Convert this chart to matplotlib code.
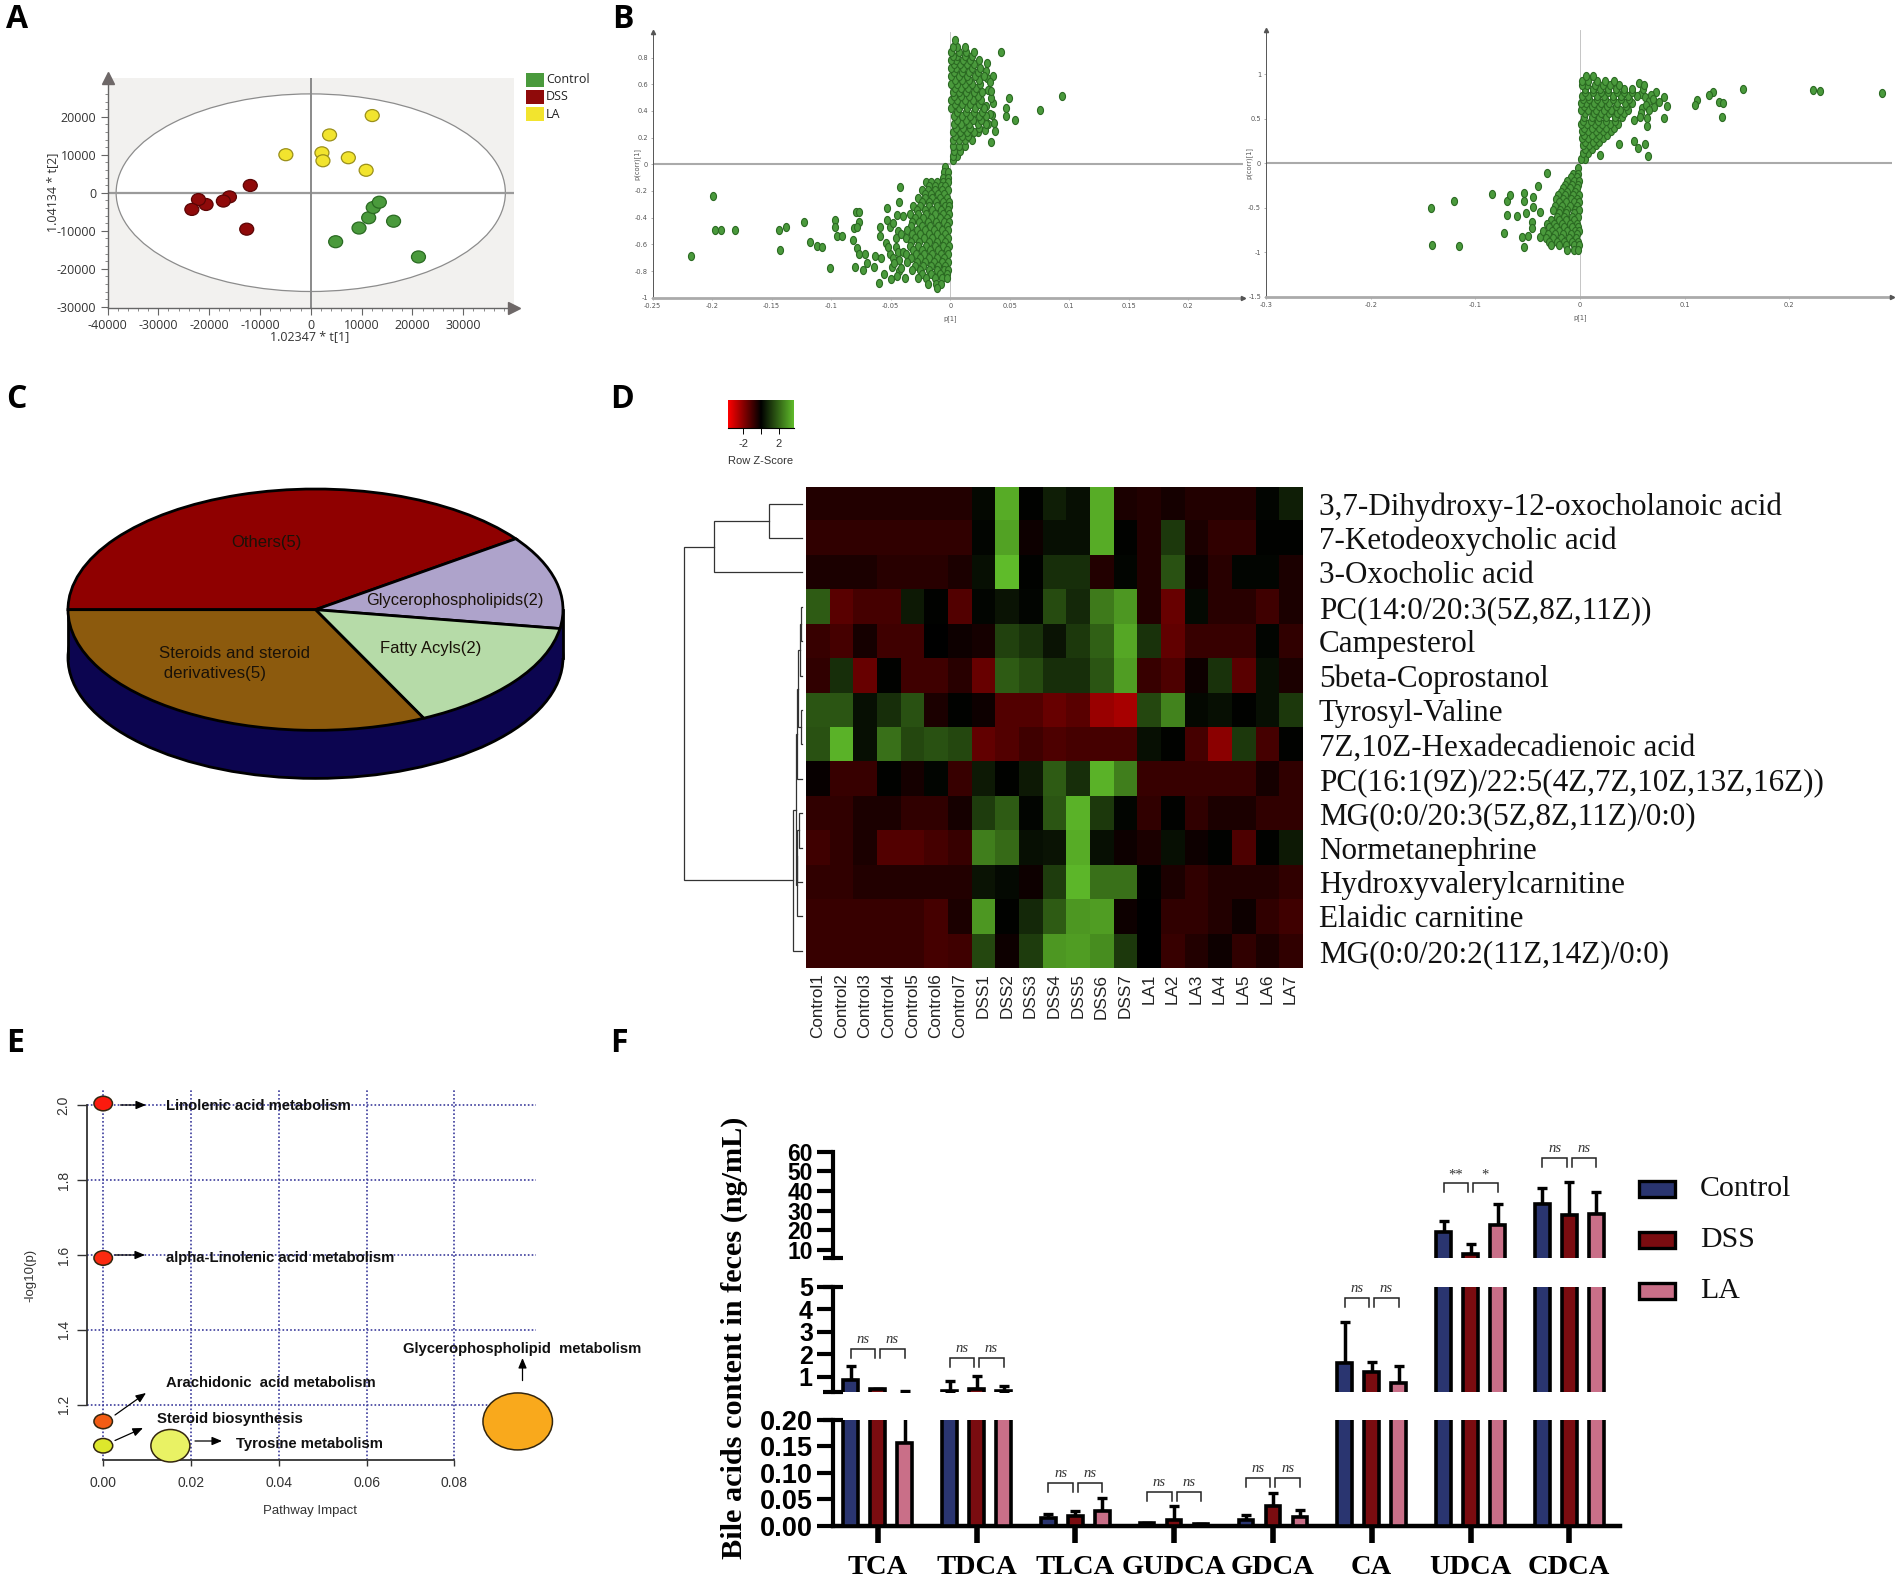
import numpy as np
import matplotlib
matplotlib.use("Agg")
import matplotlib.pyplot as plt
from matplotlib.patches import Ellipse, Rectangle
from matplotlib.colors import LinearSegmentedColormap
from matplotlib.path import Path
from matplotlib.transforms import Affine2D

plt.rcParams["axes.unicode_minus"] = False

W, H = 1902, 1580
SANS, SERIF, OPEN = "Liberation Sans", "Liberation Serif", "Open Sans"

# ---------- Panel A ----------
A_groups = ["Control", "DSS", "LA"]
A_control_x = [4900, 9500, 11400, 12300, 13500, 16300, 21200]
A_control_y = [-12900, -9300, -6600, -3900, -2500, -7500, -16900]
A_dss_x = [-11900, -12600, -16000, -17200, -20600, -22100, -23400]
A_dss_y = [1900, -9600, -1100, -2200, -3100, -1800, -4400]
A_la_x = [-4900, 2200, 2400, 3700, 7400, 10900, 12100]
A_la_y = [10000, 10500, 8400, 15200, 9200, 5900, 20300]

# ---------- Panel B ----------
B1_out_x = [-.199, -.198, -.193, -.181, -.218, -.144, -.138, -.123, -.143, -.118, -.112, -.108, -.097, -.097,
            -.095, -.091, -.101, -.079, -.077, -.077, -.081, -.078, -.082, -.078, -.077, -.072, -.08, -.073,
            -.07, -.06, -.064, -.063, -.058, -.056, -.059, -.059, -.053, -.053, -.051, -.054, -.051, -.049,
            -.042, -.045, -.04, -.044, -.046, -.043,
            -.048, -.046, -.044, -.048, -.043, -.041, -.052, -.047, -.041, -.045, -.04, -.043, -.05,
            .043, .094, .075, .049, .047, .047, .054, .036, .036, .038, .034, .035, .037, .023, .031,
            .033, .032, .034, .03, .031, .033, .03, .032, .034, .029]
B1_out_y = [-.24, -.49, -.49, -.49, -.69, -.495, -.47, -.435, -.64, -.58, -.61, -.62, -.42, -.47,
            -.535, -.54, -.78, -.36, -.36, -.43, -.475, -.47, -.57, -.63, -.67, -.67, -.77, -.79,
            -.74, -.89, -.77, -.69, -.705, -.82, -.47, -.54, -.33, -.42, -.47, -.59, -.67, -.77,
            -.17, -.38, -.39, -.5, -.62, -.72,
            -.44, -.55, -.66, -.7, -.8, -.52, -.62, -.74, -.78, -.84, -.66, -.28, -.86,
            .845, .51, .41, .495, .42, .36, .33, .66, .46, .25, .17, .37, .31, .24, .65,
            .62, .56, .5, .7, .76, .38, .44, .3, .55, .26]
B1_rows = [(-.02, [-.004]), (-.06, [-.005, -.002]), (-.1, [-.006, -.002]),
           (-.13, [-.02, -.016, -.011, -.006, -.002]), (-.16, [-.018, -.013, -.008, -.004]),
           (-.19, [-.024, -.019, -.013, -.007, -.002]), (-.22, [-.021, -.016, -.01, -.005]),
           (-.25, [-.027, -.021, -.015, -.009, -.003]), (-.28, [-.024, -.018, -.012, -.006, -.001]),
           (-.31, [-.031, -.025, -.018, -.011, -.004, -.001]), (-.34, [-.028, -.021, -.015, -.008, -.002]),
           (-.37, [-.034, -.027, -.02, -.013, -.006, -.001]), (-.4, [-.03, -.023, -.016, -.009, -.003]),
           (-.43, [-.032, -.026, -.019, -.012, -.005, -.001]), (-.46, [-.033, -.024, -.017, -.01, -.003]),
           (-.49, [-.036, -.028, -.021, -.014, -.007, -.002]), (-.52, [-.032, -.025, -.018, -.011, -.004]),
           (-.55, [-.037, -.03, -.022, -.015, -.008, -.002]), (-.58, [-.033, -.026, -.018, -.011, -.004]),
           (-.61, [-.034, -.027, -.02, -.013, -.006, -.001]), (-.64, [-.031, -.024, -.017, -.01, -.003]),
           (-.67, [-.037, -.029, -.022, -.015, -.008, -.002]), (-.7, [-.033, -.025, -.018, -.011, -.005]),
           (-.73, [-.036, -.028, -.021, -.014, -.007, -.002]), (-.76, [-.03, -.023, -.016, -.01, -.004]),
           (-.79, [-.032, -.025, -.018, -.011, -.005, -.002]), (-.82, [-.024, -.016, -.009, -.003]),
           (-.85, [-.038, -.027, -.02, -.013, -.007, -.003]), (-.9, [-.019, -.012, -.008]), (-.93, [-.011]),
           (.03, [.002]), (.06, [.006, .002]), (.1, [.008, .003]), (.14, [.012, .007, .002]),
           (.18, [.018, .012, .007, .002]), (.21, [.015, .01, .004]), (.24, [.02, .014, .008, .002]),
           (.27, [.024, .017, .011, .005]), (.3, [.03, .023, .016, .009, .003]), (.33, [.026, .019, .013, .006]),
           (.36, [.03, .024, .017, .01, .003]), (.39, [.027, .02, .013, .006]),
           (.42, [.028, .021, .014, .007, .001]), (.45, [.024, .017, .01, .004]),
           (.48, [.026, .019, .012, .006, .001]), (.51, [.023, .016, .009, .003]),
           (.54, [.027, .02, .013, .007, .002]), (.57, [.022, .015, .009, .004]),
           (.6, [.025, .018, .012, .006, .001]), (.63, [.024, .016, .01, .004]),
           (.66, [.028, .021, .014, .007, .001]), (.69, [.023, .016, .01, .003]),
           (.72, [.025, .018, .011, .005, .001]), (.75, [.02, .014, .008, .003]),
           (.78, [.024, .017, .011, .005, .001]), (.81, [.018, .012, .006, .002]),
           (.84, [.02, .013, .007, .001]), (.88, [.012, .006, .002]), (.93, [.004])]
B2_out_x = [.288, .223, .229, .156, .127, .123, .112, .11, .133, .137, .136, .08, .08, .083, .073, .064, .064,
            .0625, .065, .052, .055, .0375, .019, .056, .071, .059, .052,
            .058, .062, .066, .06, .068, .063, .07, .058, .066, .061, .075, .057,
            -.142, -.12, -.141, -.116, -.084, -.07, -.067, -.07, -.06, -.073, -.054, -.054, -.0445, -.0445,
            -.052, -.054, -.055, -.05, -.046, -.046, -.038, -.032, -.04, -.038]
B2_out_y = [.786, .824, .816, .83, .805, .77, .71, .655, .685, .68, .524, .505, .75, .648, .805, .505, .42,
            .217, .086, .255, .17, .217, .094, .9, .637, .618, .487,
            .78, .74, .7, .84, .77, .66, .72, .56, .6, .88, .69, .52,
            -.498, -.427, -.918, -.925, -.345, -.423, -.356, -.58, -.59, -.787, -.33, -.427, -.375, -.487,
            -.56, -.936, -.824, -.816, -.655, -.73, -.83, -.112, -.255, -.543]
B2_rows = [(.05, [.005, .001]), (.12, [.008, .003]), (.16, [.011, .005]), (.2, [.015, .009, .003]),
           (.24, [.018, .012, .005]), (.28, [.022, .015, .008, .002]), (.32, [.026, .018, .011, .004]),
           (.36, [.03, .022, .015, .008, .002]), (.4, [.032, .025, .018, .011, .004]),
           (.44, [.036, .029, .021, .014, .007, .001]), (.48, [.033, .025, .017, .01, .003]),
           (.52, [.04, .033, .025, .018, .011, .004]), (.56, [.042, .035, .028, .02, .013, .005]),
           (.6, [.046, .038, .03, .023, .015, .008, .001]), (.64, [.044, .034, .026, .018, .011, .004]),
           (.68, [.05, .043, .035, .028, .02, .013, .006, .001]), (.72, [.047, .039, .031, .024, .016, .009, .003]),
           (.76, [.054, .046, .039, .031, .023, .016, .008, .002]), (.8, [.05, .042, .035, .027, .02, .012, .005]),
           (.84, [.05, .042, .034, .027, .019, .012, .005]), (.88, [.037, .029, .022, .014, .007, .002]),
           (.92, [.032, .024, .016, .008, .002]), (.98, [.012, .006]),
           (-.05, [-.002]), (-.12, [-.007, -.002]), (-.16, [-.009, -.003]), (-.2, [-.012, -.006, -.001]),
           (-.24, [-.014, -.008, -.002]), (-.28, [-.016, -.01, -.003]), (-.32, [-.018, -.012, -.005]),
           (-.36, [-.021, -.014, -.007, -.001]), (-.4, [-.023, -.016, -.009, -.003]),
           (-.44, [-.02, -.013, -.006, -.001]), (-.48, [-.024, -.017, -.01, -.003]),
           (-.52, [-.026, -.019, -.012, -.005, -.001]), (-.56, [-.02, -.013, -.006]),
           (-.6, [-.022, -.015, -.008, -.002]), (-.64, [-.028, -.02, -.013, -.006]),
           (-.68, [-.032, -.025, -.017, -.01, -.003]), (-.72, [-.03, -.023, -.015, -.008, -.002]),
           (-.76, [-.035, -.027, -.02, -.012, -.005, -.001]), (-.8, [-.031, -.024, -.016, -.009, -.003]),
           (-.84, [-.033, -.026, -.018, -.011, -.004]), (-.88, [-.03, -.022, -.015, -.008, -.002]),
           (-.92, [-.028, -.02, -.013, -.006, -.001]), (-.98, [-.012, -.006, -.002])]

# ---------- Panel C ----------
C_labels = ["Others(5)", "Glycerophospholipids(2)", "Fatty Acyls(2)", "Steroids and steroid\n derivatives(5)"]
C_shares = [40.0, 12.5, 15.3, 32.2]

# ---------- Panel D ----------
D_rows = ["3,7-Dihydroxy-12-oxocholanoic acid", "7-Ketodeoxycholic acid", "3-Oxocholic acid",
          "PC(14:0/20:3(5Z,8Z,11Z))", "Campesterol", "5beta-Coprostanol", "Tyrosyl-Valine",
          "7Z,10Z-Hexadecadienoic acid", "PC(16:1(9Z)/22:5(4Z,7Z,10Z,13Z,16Z))", "MG(0:0/20:3(5Z,8Z,11Z)/0:0)",
          "Normetanephrine", "Hydroxyvalerylcarnitine", "Elaidic carnitine", "MG(0:0/20:2(11Z,14Z)/0:0)"]
D_cols = [f"Control{i}" for i in range(1, 8)] + [f"DSS{i}" for i in range(1, 8)] + [f"LA{i}" for i in range(1, 8)]
D_values = [
 [-.5,-.5,-.5,-.5,-.5,-.5,-.5, .15,3.4,.05,.6,.3,3.4,-.4, -.5,-.3,-.5,-.5,-.5,.1,.6],
 [-.7,-.7,-.7,-.7,-.7,-.7,-.7, .1,3.2,-.2,.3,.3,3.4,.05, -.5,1.1,-.4,-.7,-.7,.05,.05],
 [-.4,-.4,-.4,-.6,-.6,-.6,-.4, .3,3.7,.05,.9,.9,-.5,.1, -.5,1.6,-.2,-.6,.1,.1,-.4],
 [1.8,-1.3,-1,-1,.5,.05,-1.2, .1,.4,.1,1.5,.8,2.4,3, -.5,-1.5,.2,-.6,-.6,-.9,-.4],
 [-.8,-1,-.3,-.9,-.9,.02,-.2, -.3,1.3,1,.4,1.1,1.9,3.3, 1,-1.4,-.8,-.8,-.8,.1,-.7],
 [-.7,.9,-1.5,.03,-.9,-.9,-.6, -1.5,1.8,1.5,.9,.9,1.7,3.1, -.8,-1.1,-.2,1,-1.3,.3,-.4],
 [1.7,1.7,.3,.9,1.6,-.4,.03, -.2,-1.2,-1.2,-1.5,-1.3,-2.2,-2.4, 1.4,2.6,.15,.3,.05,.3,1.1],
 [1.6,3.5,.3,2.2,1.4,1.6,1.4, -1.4,-1.2,-.9,-1.1,-1,-1,-1, .3,.05,-1,-2,1.1,-1,.05],
 [-.1,-.8,-.8,.05,-.3,.1,-.8, .5,.03,.5,1.8,.9,3.5,2.5, -.8,-.8,-.8,-.8,-.8,-.3,-.7],
 [-.7,-.7,-.4,-.4,-.7,-.7,-.3, 1.2,1.8,.1,1.7,3.5,1.1,.1, -.7,.04,-.7,-.4,-.4,-.7,-.7],
 [-.9,-.7,-.4,-1.2,-1.2,-1,-.8, 2.5,2.1,.3,.4,3.4,.3,-.2, -.4,.3,-.2,.05,-1.1,.05,.5],
 [-.7,-.7,-.5,-.5,-.5,-.5,-.5, .4,.2,-.2,1.2,3.6,2.2,2.2, .03,-.4,-.7,-.5,-.5,-.5,-.7],
 [-.8,-.8,-.8,-.8,-.8,-1,-.4, 3,.05,.8,1.8,3,3.1,-.2, .02,-.7,-.7,-.5,-.2,-.7,-.9],
 [-.8,-.8,-.8,-.8,-.8,-1,-.9, 1.4,-.2,1.2,3,3.1,2.8,1.1, .02,-.8,-.5,-.2,-.7,-.4,-.7],
]
# merges: (lower-branch row, lower-branch height, upper-branch row, upper-branch height, merge height)
D_merges = [(3.5,0,4.5,0,1), (4.0,1,5.5,0,1.3), (6.5,0,7.5,0,1), (4.75,1.3,7.0,1,3.5), (5.9,3.5,8.5,0,5),
            (9.5,0,10.5,0,2.3), (10.0,2.3,11.5,0,5), (10.75,5,12.5,0,5.2), (7.2,5,11.6,5.2,5.5),
            (9.4,5.5,13.5,0,9), (.5,0,1.5,0,32.5), (1.0,32.5,2.5,0,87.5), (1.75,87.5,11.45,9,117.4)]

# ---------- Panel E ----------
E_names = ["Linolenic acid metabolism", "alpha-Linolenic acid metabolism", "Arachidonic  acid metabolism",
           "Steroid biosynthesis", "Tyrosine metabolism", "Glycerophospholipid  metabolism"]
E_impact = [0.0, 0.0, 0.0, 0.0, 0.0153, 0.0944]
E_logp = [2.005, 1.592, 1.155, 1.09, 1.09, 1.155]
E_colors = ["#fb1a0e", "#fb2a10", "#f25c14", "#dde72c", "#e9f264", "#f9a91c"]
E_node_w = [18.5, 18.5, 18.5, 19, 39, 69.5]
E_node_h = [14.5, 14.5, 14.5, 14.5, 32.5, 57]

# ---------- Panel F ----------
F_cats = ["TCA", "TDCA", "TLCA", "GUDCA", "GDCA", "CA", "UDCA", "CDCA"]
F_control = [0.85, 0.37, 0.015, 0.0057, 0.011, 1.62, 19.0, 33.4]
F_dss = [0.45, 0.43, 0.018, 0.011, 0.037, 1.22, 7.8, 27.6]
F_la = [0.157, 0.35, 0.028, 0.003, 0.016, 0.73, 22.9, 28.5]
F_control_top = [1.49, 0.81, 0.023, 0.0057, 0.021, 3.44, 24.9, 41.7]
F_dss_top = [0.45, 1.03, 0.027, 0.037, 0.061, 1.64, 13.0, 44.7]
F_la_top = [0.37, 0.60, 0.052, 0.003, 0.030, 1.46, 33.2, 39.3]
F_marks = [("ns", "ns")] * 6 + [("**", "*"), ("ns", "ns")]
F_bracket_level = [2.21, 1.81, 0.080, 0.0644, 0.0905, 4.5, 43.9, 56.6]
F_bracket_seg = ["mid", "mid", "bot", "bot", "bot", "mid", "top", "top"]

fig = plt.figure(figsize=(W / 100, H / 100), dpi=100, facecolor="white")


def axpx(x0, y0, x1, y1, **kw):
    return fig.add_axes([x0 / W, 1 - y1 / H, (x1 - x0) / W, (y1 - y0) / H], **kw)


ov = axpx(0, 0, W, H)
ov.set_xlim(0, W)
ov.set_ylim(H, 0)
ov.axis("off")
ov.set_zorder(10)
ov.patch.set_alpha(0)

for lab, x, y in [("A", 6, 19), ("B", 612, 19), ("C", 6, 399), ("D", 610, 399), ("E", 6, 1043), ("F", 610, 1043)]:
    ov.text(x, y, lab, fontsize=23, fontweight="bold", family=OPEN, va="center", ha="left", color="black")

# ---------- A ----------
a = axpx(107.5, 78, 514, 308)
a.set_xlim((107.5 - 310.4) / 50.9 * 1e4, (514 - 310.4) / 50.9 * 1e4)
a.set_ylim(-(308 - 192.7) / 38 * 1e4, (192.7 - 78) / 38 * 1e4)
a.set_facecolor("#f2f1ef")
a.add_patch(Ellipse((0, 0), 76600, 52000, fc="white", ec="#8c8c8c", lw=0.9, zorder=1))
a.axhline(0, color="#9a9a9a", lw=1.6, zorder=2)
a.axvline(0, color="#8a8a8a", lw=1.4, zorder=2)
A_cols = ["#4a9a3c", "#8f0a0a", "#f2e42e"]
A_edge = ["#2a6a22", "#5a0505", "#9a8f1a"]
for xs, ys, c, e in zip([A_control_x, A_dss_x, A_la_x], [A_control_y, A_dss_y, A_la_y], A_cols, A_edge):
    for x, y in zip(xs, ys):
        a.add_patch(Ellipse((x, y), 2750, 3150, fc=c, ec=e, lw=0.9, zorder=3))
for s in ["top", "right"]:
    a.spines[s].set_visible(False)
for s in ["left", "bottom"]:
    a.spines[s].set_color("#666666")
    a.spines[s].set_linewidth(1.0)
a.set_xticks(np.arange(-40000, 30001, 10000))
a.set_yticks(np.arange(-30000, 20001, 10000))
a.set_xticks(np.arange(-40000, 38001, 2000), minor=True)
a.set_yticks(np.arange(-30000, 27001, 2000), minor=True)
a.tick_params(which="major", length=5, width=0.8, color="#666666", labelsize=9, labelcolor="#333333", pad=3)
a.tick_params(which="minor", length=2.5, width=0.6, color="#777777")
for t in a.get_xticklabels() + a.get_yticklabels():
    t.set_family(OPEN)
a.plot(0, 1.0, "^", transform=a.transAxes, clip_on=False, color="#6e6868", ms=8, zorder=5)
a.plot(1.0, 0, ">", transform=a.transAxes, clip_on=False, color="#6e6868", ms=8, zorder=5)
ov.text(310, 337, "1.02347 * t[1]", fontsize=9, family=OPEN, ha="center", va="center", color="#333333")
ov.text(52.5, 192.7, "1.04134 * t[2]", fontsize=9, family=OPEN, ha="center", va="center", rotation=90, color="#333333")
for g, c, yy in zip(A_groups, A_cols, [79.5, 97, 114]):
    ov.add_patch(Rectangle((526, yy - 7), 18, 14, fc=c, ec="none"))
    ov.text(546, yy, g, fontsize=9, family=OPEN, va="center", ha="left", color="#222222")

# tall oval marker, as the panel B points are stretched in the reference
B_marker = Path.unit_circle().transformed(Affine2D().scale(0.82, 1.1))


def panel_b(box, xlim, ylim, xticks, xlabs, yticks, ylabs, outx, outy, rows, xlab_pos, ylab_pos):
    b = axpx(*box)
    b.set_xlim(*xlim)
    b.set_ylim(*ylim)
    b.patch.set_alpha(0)
    for s in ["top", "right"]:
        b.spines[s].set_visible(False)
    b.spines["left"].set_color("#555555")
    b.spines["left"].set_linewidth(0.7)
    b.spines["bottom"].set_color("#aaaaaa")
    b.spines["bottom"].set_linewidth(2)
    b.axhline(0, color="#aaaaaa", lw=1.5, zorder=1)
    b.axvline(0, color="#bbbbbb", lw=0.6, zorder=1)
    xs = list(outx) + [x for y, r in rows for x in r]
    ys = list(outy) + [y for y, r in rows for x in r]
    b.scatter(xs, ys, s=34, marker=B_marker, c="#4a9a3c", edgecolors="#2b6a22", linewidths=0.8, zorder=3, clip_on=False)
    b.set_xticks(xticks, xlabs)
    b.set_yticks(yticks, ylabs)
    b.tick_params(length=1.5, width=0.4, color="#777777", labelsize=4.8, labelcolor="#555555", pad=2)
    b.plot(0, 1.0, "^", transform=b.transAxes, clip_on=False, color="#555555", ms=3, zorder=5)
    b.plot(1.0, 0, ">", transform=b.transAxes, clip_on=False, color="#555555", ms=3, zorder=5)
    ov.text(*xlab_pos, "p[1]", fontsize=4.8, ha="center", va="center", color="#555555")
    ov.text(*ylab_pos, "p(corr)[1]", fontsize=4.8, ha="center", va="center", rotation=90, color="#555555")


def bx(px, p0, per):
    return (px - p0) / per


panel_b((652.7, 31.7, 1243, 297.7),
        (-0.25, bx(1243, 950.3, 1190)), (-1, (164.3 - 31.7) / 133.4),
        [-.25, -.2, -.15, -.1, -.05, 0, .05, .1, .15, .2],
        ["-0.25", "-0.2", "-0.15", "-0.1", "-0.05", "0", "0.05", "0.1", "0.15", "0.2"],
        [-1, -.8, -.6, -.4, -.2, 0, .2, .4, .6, .8],
        ["-1", "-0.8", "-0.6", "-0.4", "-0.2", "0", "0.2", "0.4", "0.6", "0.8"],
        B1_out_x, B1_out_y, B1_rows, (950.3, 319), (637, 164))
panel_b((1266, 30, 1892, 296.7),
        (-0.3, bx(1892, 1580, 1047)), (-1.5, (163.3 - 30) / 89),
        [-.3, -.2, -.1, 0, .1, .2], ["-0.3", "-0.2", "-0.1", "0", "0.1", "0.2"],
        [-1.5, -1, -.5, 0, .5, 1], ["-1.5", "-1", "-0.5", "0", "0.5", "1"],
        B2_out_x, B2_out_y, B2_rows, (1580, 318), (1249, 163))

# ---------- C ----------
c = axpx(68, 489, 563, 779)
c.add_patch(Ellipse((0, -.398), 2, 2, fc="#0c0550", ec="black", lw=2, clip_on=False, zorder=1))
wedges, _ = c.pie(C_shares, startangle=180, counterclock=False, radius=1, center=(0, 0),
                  colors=["#8f0000", "#aea3cb", "#b6dba8", "#8c5a0d"],
                  wedgeprops=dict(edgecolor="black", linewidth=2, zorder=3))
c.add_patch(Rectangle((-1, -.398), 2, .398, fc="#0c0550", ec="none", zorder=2))
c.plot([-1, -1], [-.398, 0], color="black", lw=2, zorder=2, clip_on=False)
c.plot([1, 1], [-.398, 0], color="black", lw=2, zorder=2, clip_on=False)
for w in wedges:
    w.set_clip_on(False)
c.set_aspect("auto")
c.set_xlim(-1, 1)
c.set_ylim(-1.403, 1)
c.axis("off")
for lab, x, y, ha, fs in zip(C_labels, [266, 454.5, 431, 159], [542, 600, 648, 663.5],
                             ["center", "center", "center", "left"], [12, 11.8, 12, 12.2]):
    ov.text(x, y, lab, fontsize=fs, family=SANS, ha=ha, va="center", color="#1a1208", linespacing=1.4)

# ---------- D ----------
cmap = LinearSegmentedColormap.from_list("rbg", ["#ff0000", "#000000", "#5fbb2a"])
h = axpx(806, 486.5, 1302.3, 968)
h.imshow(np.array(D_values), aspect="auto", cmap=cmap, vmin=-3.7, vmax=3.7, interpolation="nearest")
h.set_yticks(range(14), D_rows, family=SERIF, fontsize=22.4, color="#111111")
h.yaxis.tick_right()
h.set_xticks(range(21), D_cols, rotation=90, family=SANS, fontsize=12.3, color="#222222")
h.tick_params(length=0, pad=12, axis="y")
h.tick_params(length=0, pad=4, axis="x")
for s in h.spines.values():
    s.set_visible(False)

cb = axpx(728, 400, 794, 427.6)
cb.imshow(np.linspace(-3.7, 3.7, 256)[None, :], aspect="auto", cmap=cmap, vmin=-3.7, vmax=3.7,
          extent=[-3.7, 3.7, 0, 1])
cb.set_yticks([])
cb.set_xticks([-2, 0, 2], ["-2", "", "2"], family=SANS, fontsize=8, color="#333333")
cb.tick_params(length=4, width=0.7, pad=4)
for s in ["left", "right", "top"]:
    cb.spines[s].set_visible(False)
ov.text(761, 461, "Row Z-Score", fontsize=8, family=SANS, ha="center", va="center", color="#333333")

dn = axpx(684.3, 486.5, 801.7, 968)
dn.set_xlim(117.4, 0)
dn.set_ylim(14, 0)
dn.axis("off")
for y1, h1, y2, h2, hh in D_merges:
    dn.plot([h1, hh, hh, h2], [y1, y1, y2, y2], color="#333333", lw=0.9, clip_on=False, solid_joinstyle="miter")

# ---------- E ----------
EX, EY = 4391, 374.0
e = axpx(87.2, 1090, 535.6, 1459.7)
e.set_xlim((87.2 - 103.2) / EX, (535.6 - 103.2) / EX)
e.set_ylim(2.0 - (1459.7 - 1105.4) / EY, 2.0 + (1105.4 - 1090) / EY)
e.patch.set_alpha(0)
for s in e.spines.values():
    s.set_visible(False)
xt = [0, .02, .04, .06, .08]
yt = [1.2, 1.4, 1.6, 1.8, 2.0]
GRID = "#3c3c9c"
for x in xt:
    e.plot([x, x], [e.get_ylim()[0], e.get_ylim()[1]], color=GRID, lw=1.2, ls=(0, (1, 1.3)), zorder=1)
for y in yt:
    e.plot([e.get_xlim()[0], e.get_xlim()[1]], [y, y], color=GRID, lw=1.2, ls=(0, (1, 1.3)), zorder=1)
e.plot([e.get_xlim()[0]] * 2, [1.2, 2.0], color="#333333", lw=1.3, zorder=2, clip_on=False)
e.plot([0, .08], [e.get_ylim()[0]] * 2, color="#333333", lw=1.3, zorder=2, clip_on=False)
e.set_xticks(xt, [f"{v:.2f}" for v in xt], family=SANS, fontsize=10, color="#333333")
e.set_yticks(yt, [f"{v:.1f}" for v in yt], family=SANS, fontsize=10, color="#333333", rotation=90, va="center")
e.tick_params(axis="x", length=4.5, width=1, color="#333333", pad=7)
e.tick_params(axis="y", length=7, width=1, color="#333333", pad=5)
for x, y, w, hh, col in zip(E_impact, E_logp, E_node_w, E_node_h, E_colors):
    e.add_patch(Ellipse((x, y), w / EX, hh / EY, fc=col, ec="#33260f", lw=1.1, zorder=4, clip_on=False))
ov.text(310, 1511, "Pathway Impact", fontsize=9.5, family=SANS, ha="center", va="center", color="#333333")
ov.text(30, 1275, "-log10(p)", fontsize=9.5, family=SANS, ha="center", va="center", rotation=90, color="#333333")
for nm, x, y in zip(E_names, [166, 166, 166, 157, 236, 403], [1106, 1258, 1383, 1418.5, 1444, 1349]):
    ov.text(x, y, nm, fontsize=10.7, family=SANS, fontweight="bold", ha="left", va="center", color="#111111")
for (x0, y0, x1, y1) in [(120.5, 1105, 146, 1105), (115, 1255, 145, 1255), (115, 1415, 146, 1393),
                         (115, 1440.5, 143, 1428), (195, 1441, 222, 1441), (522.5, 1380.6, 522.5, 1358)]:
    ov.annotate("", xy=(x1, y1), xytext=(x0, y0),
                arrowprops=dict(arrowstyle="-|>,head_length=0.6,head_width=0.25", color="black", lw=0.9,
                                shrinkA=0, shrinkB=0))

# ---------- F ----------
BASE, STEP = 877.7, 98.8
XL = ((833 - BASE) / STEP, (1620 - BASE) / STEP)
segs = {"top": (1151.7, 1258.3, 5.8, 60), "mid": (1286.7, 1392.3, 0.3, 5), "bot": (1420, 1525.7, 0.0, 0.2)}
tick_sets = {"top": ([10, 20, 30, 40, 50, 60], ["10", "20", "30", "40", "50", "60"], 16.5),
             "mid": ([1, 2, 3, 4, 5], ["1", "2", "3", "4", "5"], 18),
             "bot": ([0, .05, .1, .15, .2], ["0.00", "0.05", "0.10", "0.15", "0.20"], 19.5)}
F_cols = ["#2a3570", "#7a0c10", "#c96f88"]
pos = np.arange(len(F_cats))
off = 27 / STEP
series = [(F_control, F_control_top), (F_dss, F_dss_top), (F_la, F_la_top)]
axes_f = {}
for name, (y0, y1, lo, hi) in segs.items():
    f = axpx(833, y0, 1620, y1)
    axes_f[name] = f
    f.set_xlim(*XL)
    f.set_ylim(lo, hi)
    f.patch.set_alpha(0)
    for k, (vals, tops) in enumerate(series):
        xpos = pos + (k - 1) * off
        f.bar(xpos, vals, width=14.5 / STEP, color=F_cols[k], edgecolor="black", linewidth=2.6, zorder=3)
        err = np.array(tops) - np.array(vals)
        f.errorbar(xpos, vals, yerr=[np.zeros(8), err], fmt="none", ecolor="black", elinewidth=2.5,
                   capsize=3.4, capthick=2.4, zorder=2)
    for s in ["top", "right", "bottom"]:
        f.spines[s].set_visible(False)
    f.spines["left"].set_linewidth(3)
    ticks, labs, fsize = tick_sets[name]
    f.set_yticks(ticks, labs, family=SANS, fontweight="bold", fontsize=fsize, color="black")
    f.tick_params(axis="y", length=11.5, width=3, pad=3)
    f.set_xticks([])
    # end stubs of each axis segment
    if name != "bot":
        f.plot([-10 / 787, 10 / 787 + 0.0], [0, 0], transform=f.transAxes, color="black", lw=3,
               clip_on=False, solid_capstyle="butt", zorder=5)
    if name == "mid":
        f.plot([-10 / 787, 10 / 787], [1, 1], transform=f.transAxes, color="black", lw=3,
               clip_on=False, solid_capstyle="butt", zorder=5)
    if name == "bot":
        f.plot([-10 / 787, 10 / 787], [1, 1], transform=f.transAxes, color="black", lw=3,
               clip_on=False, solid_capstyle="butt", zorder=5)
        f.spines["bottom"].set_visible(True)
        f.spines["bottom"].set_linewidth(3.2)
        f.set_xticks(pos, F_cats, family=SERIF, fontweight="bold", fontsize=20.5, color="black")
        f.tick_params(axis="x", length=12, width=4, pad=9)
    if name == "top":
        f.spines["left"].set_bounds(5.8, 60)

# brackets
for i, (level, seg, marks) in enumerate(zip(F_bracket_level, F_bracket_seg, F_marks)):
    f = axes_f[seg]
    y0, y1, lo, hi = segs[seg]
    per_px = (hi - lo) / (y1 - y0)
    ylow = level - 9 * per_px
    xs = [(i - off, i - 2.5 / STEP), (i + 2.5 / STEP, i + off)]
    for (xa, xb), m in zip(xs, marks):
        f.plot([xa, xa, xb, xb], [ylow, level, level, ylow], color="#222222", lw=1.1, zorder=6, clip_on=False,
               solid_joinstyle="miter")
        f.text((xa + xb) / 2, level + (3 if m == "ns" else 2) * per_px, m, family=SERIF,
               style="italic" if m == "ns" else "normal", fontsize=10.5, ha="center", va="bottom", color="#333333")

ov.text(734.4, 1338, "Bile acids content in feces (ng/mL)", family=SERIF, fontweight="bold", fontsize=21.8,
        rotation=90, ha="center", va="center", color="black")
for g, c_, yy in zip(["Control", "DSS", "LA"], F_cols, [1189, 1240, 1291]):
    ov.add_patch(Rectangle((1639, yy - 8), 35.5, 16, fc=c_, ec="black", lw=2.4))
    ov.text(1700, yy, g, family=SERIF, fontsize=21.5, ha="left", va="center", color="#111111")

fig.savefig("out.png", dpi=100)
